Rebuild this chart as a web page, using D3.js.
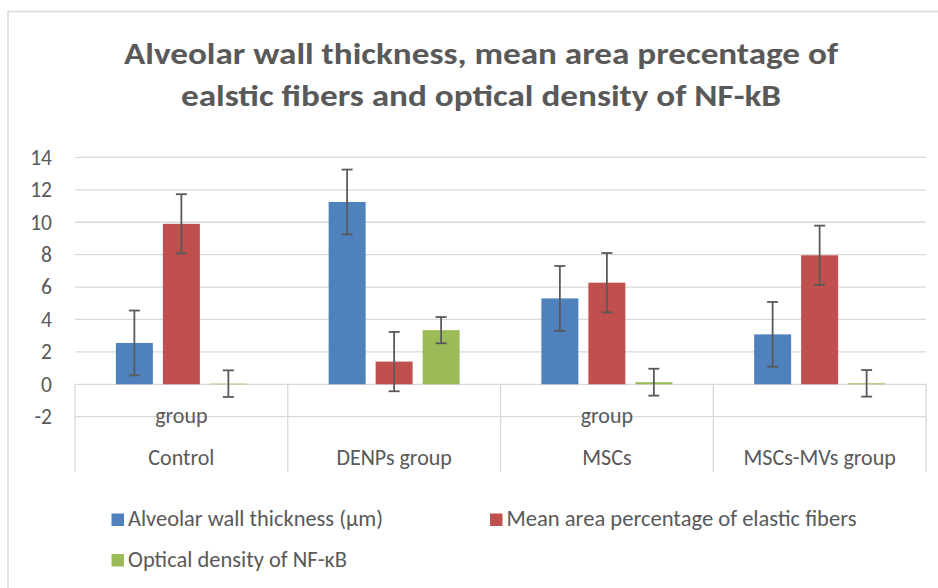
<!DOCTYPE html>
<html>
<head>
<meta charset="utf-8">
<script src="https://cdn.jsdelivr.net/npm/d3@7"></script>
<style>
  body { margin: 0; background: #fff; }
  text { font-family: Carlito, Calibri, Lato, sans-serif; fill: #595959; }
</style>
</head>
<body>
<svg id="chart" width="938" height="588"></svg>
<script>
const categories = ["Control", "DENPs group", "MSCs", "MSCs-MVs group"];
const upperLabels = ["group", "", "group", ""];
const seriesNames = ["Alveolar wall thickness (μm)", "Mean area percentage of elastic fibers", "Optical density of NF-κB"];
const wallThickness = [2.55, 11.25, 5.3, 3.08];
const wallThicknessErr = [2, 2, 2, 2];
const elasticFibers = [9.9, 1.4, 6.27, 7.96];
const elasticFibersErr = [1.83, 1.83, 1.83, 1.83];
const nfkb = [0.04, 3.34, 0.13, 0.06];
const nfkbErr = [0.82, 0.81, 0.83, 0.82];
const yTicks = [-2, 0, 2, 4, 6, 8, 10, 12, 14];
const titleLines = ["Alveolar wall thickness, mean area precentage of", "ealstic fibers and optical density of NF-kB"];

const colors = ["#4f81bd", "#c0504d", "#9bbb59"];
const gridColor = "#d9d9d9";

const svg = d3.select("#chart");

// chart area border (right side runs off the picture)
svg.append("rect")
  .attr("x", 8).attr("y", 11.5)
  .attr("width", 960).attr("height", 600)
  .attr("fill", "#fff")
  .attr("stroke", gridColor)
  .attr("stroke-width", 1.5);

// title
svg.selectAll(".title").data(titleLines).enter().append("text")
  .attr("class", "title")
  .attr("x", 481)
  .attr("y", (d, i) => 64 + i * 42)
  .attr("text-anchor", "middle")
  .attr("font-size", 31)
  .attr("font-weight", "bold")
  .attr("textLength", (d, i) => [714, 600][i])
  .attr("lengthAdjust", "spacingAndGlyphs")
  .text(d => d);

const x0 = d3.scaleBand().domain(categories).range([75, 926]).padding(0);
const x1 = d3.scaleBand().domain(seriesNames).range([0, x0.bandwidth()])
  .paddingInner(0.213).paddingOuter(0.87);
const y = d3.scaleLinear().domain([-2, 14]).range([416.7, 157.4]);

// gridlines
svg.append("g").selectAll("line").data(yTicks).enter().append("line")
  .attr("x1", 75).attr("x2", 926)
  .attr("y1", d => y(d)).attr("y2", d => y(d))
  .attr("stroke", gridColor)
  .attr("stroke-width", 1.3);

// y axis labels
const yAxis = svg.append("g")
  .attr("transform", "translate(58,0)")
  .call(d3.axisLeft(y).tickValues(yTicks).tickSize(0).tickPadding(6).tickFormat(d => String(d)));
yAxis.select(".domain").remove();
yAxis.selectAll("text")
  .attr("font-size", 21.5)
  .attr("fill", "#595959")
  .style("font-family", "Carlito, Calibri, Lato, sans-serif");

// multi-level category dividers
const bounds = categories.map(c => x0(c)).concat([x0.range()[1]]);
svg.append("g").selectAll("line").data(bounds).enter().append("line")
  .attr("x1", d => d).attr("x2", d => d)
  .attr("y1", y(0)).attr("y2", 472)
  .attr("stroke", gridColor)
  .attr("stroke-width", 1.3);

// bars
const seriesData = [
  { vals: wallThickness, errs: wallThicknessErr },
  { vals: elasticFibers, errs: elasticFibersErr },
  { vals: nfkb, errs: nfkbErr },
];
const bars = [];
seriesData.forEach((s, si) => {
  categories.forEach((c, ci) => {
    bars.push({ cat: c, series: seriesNames[si], value: s.vals[ci], err: s.errs[ci], color: colors[si] });
  });
});

svg.append("g").selectAll("rect").data(bars).enter().append("rect")
  .attr("x", d => x0(d.cat) + x1(d.series))
  .attr("y", d => y(Math.max(0, d.value)))
  .attr("width", x1.bandwidth())
  .attr("height", d => Math.abs(y(d.value) - y(0)))
  .attr("fill", d => d.color);

// error bars
const errG = svg.append("g").attr("stroke", "#595959").attr("stroke-width", 1.8);
const cx = d => x0(d.cat) + x1(d.series) + x1.bandwidth() / 2;
errG.selectAll(".stem").data(bars).enter().append("line")
  .attr("x1", cx).attr("x2", cx)
  .attr("y1", d => y(d.value + d.err)).attr("y2", d => y(d.value - d.err));
errG.selectAll(".capTop").data(bars).enter().append("line")
  .attr("x1", d => cx(d) - 5.5).attr("x2", d => cx(d) + 5.5)
  .attr("y1", d => y(d.value + d.err)).attr("y2", d => y(d.value + d.err));
errG.selectAll(".capBot").data(bars).enter().append("line")
  .attr("x1", d => cx(d) - 5.5).attr("x2", d => cx(d) + 5.5)
  .attr("y1", d => y(d.value - d.err)).attr("y2", d => y(d.value - d.err));

// category labels (two rows)
svg.append("g").selectAll("text").data(categories).enter().append("text")
  .attr("x", d => x0(d) + x0.bandwidth() / 2)
  .attr("y", 465)
  .attr("text-anchor", "middle")
  .attr("font-size", 22)
  .text(d => d);
svg.append("g").selectAll("text").data(upperLabels).enter().append("text")
  .attr("x", (d, i) => x0(categories[i]) + x0.bandwidth() / 2)
  .attr("y", 423)
  .attr("text-anchor", "middle")
  .attr("font-size", 22)
  .text(d => d);

// legend
const legendPos = [[111.5, 526], [490, 526], [111.5, 566.5]];
const legendWidths = [255, 350, 219];
const legend = svg.append("g").selectAll("g").data(seriesNames).enter().append("g")
  .attr("transform", (d, i) => `translate(${legendPos[i][0]},${legendPos[i][1]})`);
legend.append("rect")
  .attr("x", 0).attr("y", -12.5)
  .attr("width", 12.5).attr("height", 12.5)
  .attr("fill", (d, i) => colors[i]);
legend.append("text")
  .attr("x", 16.5).attr("y", 0)
  .attr("font-size", 21.5)
  .attr("textLength", (d, i) => legendWidths[i])
  .attr("lengthAdjust", "spacingAndGlyphs")
  .text(d => d);
</script>
</body>
</html>
